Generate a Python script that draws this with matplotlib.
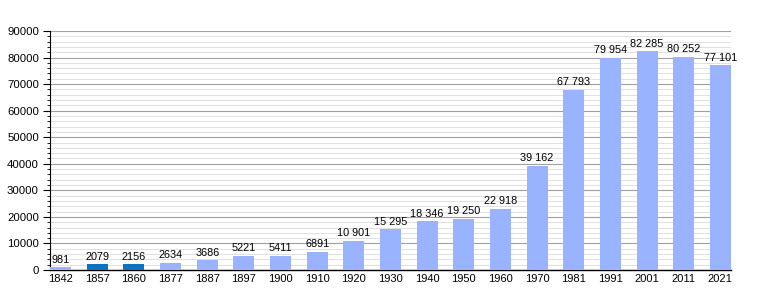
import matplotlib
matplotlib.use("Agg")
import matplotlib.pyplot as plt
from matplotlib.ticker import MultipleLocator

years = ["1842", "1857", "1860", "1877", "1887", "1897", "1900", "1910", "1920", "1930",
         "1940", "1950", "1960", "1970", "1981", "1991", "2001", "2011", "2021"]
population = [981, 2079, 2156, 2634, 3686, 5221, 5411, 6891, 10901, 15295,
              18346, 19250, 22918, 39162, 67793, 79954, 82285, 80252, 77101]
highlight = ["1857", "1860"]

plt.rcParams['font.family'] = ['Liberation Sans', 'DejaVu Sans']

fig = plt.figure(figsize=(7.6, 3.0), dpi=100)
ax = fig.add_axes([50/760, 30/300, 681/760, 239/300])

x = list(range(len(years)))
colors = ['#0b72c1' if y in highlight else '#99b3ff' for y in years]
ax.bar(x, population, width=0.57, color=colors, zorder=3)

def fmt(v):
    if v >= 10000:
        return f"{v:,}".replace(",", " ")
    return str(v)

for xi, v in zip(x, population):
    ax.text(xi, v + 1000, fmt(v), ha='center', va='bottom', fontsize=7.8, zorder=4)

ax.set_xlim(-0.29, len(years) - 1 + 0.29)
ax.set_ylim(0, 90000)
ax.set_xticks(x)
ax.set_xticklabels(years, fontsize=8)
ax.yaxis.set_major_locator(MultipleLocator(10000))
ax.yaxis.set_minor_locator(MultipleLocator(2000))
ax.set_yticklabels([str(int(t)) for t in ax.get_yticks()], fontsize=8.2)
ax.tick_params(axis='x', length=0, pad=3)
ax.tick_params(axis='y', which='major', length=5, width=0.8, pad=3)
ax.tick_params(axis='y', which='minor', length=2.5, width=0.6)
ax.grid(axis='y', which='major', color='#a0a0a0', linewidth=0.8, zorder=0)
ax.grid(axis='y', which='minor', color='#dcdcdc', linewidth=0.6, zorder=0)
for s in ['top', 'right']:
    ax.spines[s].set_visible(False)
ax.spines['left'].set_linewidth(0.8)
ax.spines['bottom'].set_linewidth(1.0)

fig.savefig("out.png", dpi=100)
